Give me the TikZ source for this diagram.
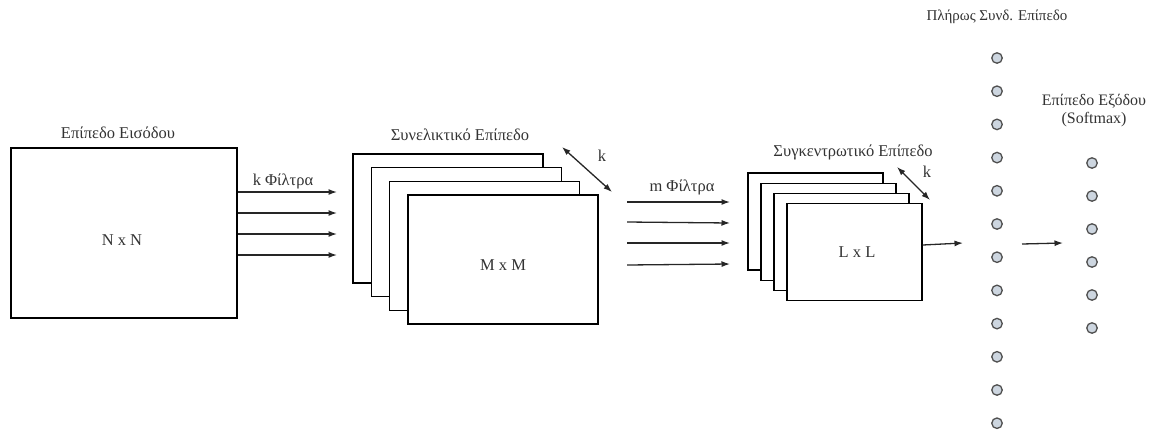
\documentclass[tikz,border=0pt]{standalone}
\usepackage{fontspec}
\setmainfont{Liberation Serif}
\usetikzlibrary{arrows.meta}
\definecolor{txt}{HTML}{333333}
\definecolor{nfill}{HTML}{CDD6E0}
\definecolor{nline}{HTML}{505050}
\begin{document}
\begin{tikzpicture}[x=1pt,y=-1pt,
  lbl/.style={font=\fontsize{16.5}{19}\selectfont, text=txt, inner sep=0pt},
  slbl/.style={font=\fontsize{15}{18}\selectfont, text=txt, inner sep=0pt, align=center},
  inbox/.style={draw, line width=1.3pt, fill=white, minimum width=226pt, minimum height=170pt, inner sep=0pt},
  cbox/.style={draw, line width=1.3pt, fill=white, minimum width=190pt, minimum height=129pt, inner sep=0pt},
  pbox/.style={draw, line width=1.3pt, fill=white, minimum width=135pt, minimum height=97pt, inner sep=0pt},
  arr/.style={-{Latex[length=8.5pt,width=6pt]}, line width=1.3pt, draw=black!85},
  dbl/.style={{Latex[length=8.5pt,width=6pt]}-{Latex[length=8.5pt,width=6pt]}, line width=1.3pt, draw=black!85},
  neuron/.style={circle, draw=nline, fill=nfill, line width=1.3pt, minimum size=10.5pt, inner sep=0pt}
]
\useasboundingbox (0,0) rectangle (1154,429);

% input layer
\node[inbox] (in) at (124,233) {};
\node[lbl] (inT) at (118,133) {Επίπεδο Εισόδου};
\node[lbl] (inL) at (122,240) {N x N};

% k filter arrows
\foreach \i/\y in {1/192,2/213,3/234,4/255}{
  \coordinate (ka\i) at (337,\y);
  \draw[arr] (in.east |- ka\i) -- (ka\i);
}
\node[lbl] (kF) at (283,181) {k Φίλτρα};

% convolution layer
\node[cbox] (c1) at (448,218.5) {};
\node[cbox] (c2) at (466.3,232.2) {};
\node[cbox] (c3) at (484.7,245.8) {};
\node[cbox] (c4) at (503,259.5) {};
\node[lbl] (cT) at (460,135) {Συνελικτικό Επίπεδο};
\node[lbl] (cL) at (503,265) {M x M};
\coordinate (ck1) at (562,147);
\coordinate (ck2) at (612,192);
\draw[dbl] (ck1) -- (ck2);
\node[lbl] (ck) at (602,156) {k};

% m filter arrows
\foreach \i/\y/\ys in {1/202/202,2/222/223,3/243/243,4/265/264}{
  \coordinate (ms\i) at (627,\y);
  \coordinate (me\i) at (730,\ys);
  \draw[arr] (ms\i) -- (me\i);
}
\node[lbl] (mF) at (682,187) {m Φίλτρα};

% pooling layer
\node[pbox] (p1) at (815.5,221.5) {};
\node[pbox] (p2) at (828.5,231.7) {};
\node[pbox] (p3) at (841.5,241.8) {};
\node[pbox] (p4) at (854.5,252) {};
\node[lbl] (pT) at (853,152) {Συγκεντρωτικό Επίπεδο};
\node[lbl] (pL) at (857,252) {L x L};
\coordinate (pk1) at (897,167);
\coordinate (pk2) at (930,200);
\draw[dbl] (pk1) -- (pk2);
\node[lbl] (pk) at (927,172) {k};

% pool -> FC
\coordinate (pfe) at (963,243);
\draw[arr] ([yshift=7pt]p4.east) -- (pfe);

% fully connected layer
\node[slbl] (fT) at (997,17) {Πλήρως Συνδ. Επίπεδο};
\foreach \i in {0,...,11}{
  \node[neuron] (f\i) at (997,58+33.2*\i) {};
}

% FC -> output
\coordinate (fos) at (1022,244);
\coordinate (foe) at (1063,243);
\draw[arr] (fos) -- (foe);

% output layer
\node[slbl, font=\fontsize{16}{18}\selectfont] (oT) at (1094,111) {Επίπεδο Εξόδου\\(Softmax)};
\foreach \i in {0,...,5}{
  \node[neuron] (o\i) at (1092,163+33*\i) {};
}
\end{tikzpicture}
\end{document}
